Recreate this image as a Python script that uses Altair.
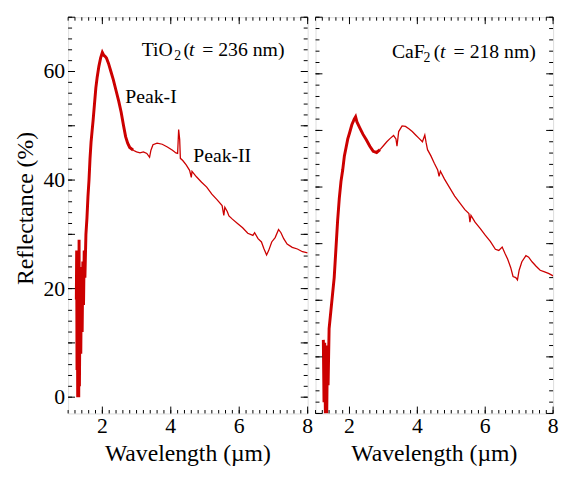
import altair as alt
import pandas as pd

FONT = "'Liberation Serif', 'Times New Roman', Times, 'Nimbus Roman', serif"
RED = "#cc0000"

# TiO2 (left panel) spectrum
tio2_x = [1.24, 1.25, 1.26, 1.27, 1.28, 1.30, 1.31, 1.32, 1.33, 1.35, 1.37, 1.39, 1.41, 1.43,
          1.45, 1.47, 1.49, 1.52, 1.55, 1.58, 1.61, 1.64, 1.67, 1.70, 1.73, 1.77, 1.81, 1.85,
          1.90, 1.95, 2.00, 2.04, 2.08, 2.12, 2.18, 2.25, 2.32, 2.40, 2.48, 2.55, 2.62, 2.68,
          2.74, 2.80, 2.90, 3.00, 3.10, 3.20, 3.30, 3.38, 3.42, 3.48, 3.60, 3.75, 3.90, 4.05,
          4.15, 4.20, 4.23, 4.26, 4.28, 4.35, 4.45, 4.55, 4.60, 4.62, 4.75, 4.90, 5.05, 5.20,
          5.35, 5.50, 5.55, 5.58, 5.65, 5.70, 5.80, 5.95, 6.10, 6.25, 6.40, 6.45, 6.55, 6.65,
          6.72, 6.80, 6.86, 6.95, 7.05, 7.15, 7.22, 7.30, 7.40, 7.55, 7.70, 7.85, 8.00]
tio2_y = [18, 27, 5, 22, 0, 25, 0, 29, 2, 20, 8, 24, 12, 25,
          17, 27, 22, 30, 33, 37, 40, 44, 47, 49, 51, 54, 57, 59,
          61, 62.5, 63.5, 63, 62.8, 62.5, 61.5, 60, 58.5, 56.5, 54.5, 52.5, 50, 48,
          46.8, 46, 45.5, 45.2, 45.0, 45.2, 44.9, 44.2, 45.5, 46.5, 46.8, 46.6, 46.1, 45.5,
          45.0, 44.9, 49.3, 47.5, 44.0, 43.6, 42.8, 41.8, 40.5, 41.6, 40.6, 39.6, 38.7, 37.4,
          36.4, 35.3, 33.5, 35.0, 34.2, 33.4, 32.8, 32.0, 31.2, 30.2, 29.8, 30.3, 29.2, 28.6,
          27.4, 26.2, 27.0, 28.6, 29.4, 30.9, 30.3, 29.2, 28.2, 27.6, 27.3, 26.8, 26.6]

# CaF2 (right panel) spectrum
caf2_x = [1.23, 1.25, 1.27, 1.29, 1.31, 1.33, 1.35, 1.37, 1.40, 1.45, 1.50, 1.55, 1.60, 1.65,
          1.70, 1.75, 1.80, 1.85, 1.90, 1.95, 2.00, 2.07, 2.14, 2.18, 2.22, 2.30, 2.40, 2.50,
          2.60, 2.70, 2.80, 2.90, 3.00, 3.10, 3.20, 3.30, 3.37, 3.40, 3.45, 3.55, 3.65, 3.75,
          3.85, 3.95, 4.05, 4.15, 4.22, 4.26, 4.30, 4.40, 4.50, 4.60, 4.64, 4.68, 4.80, 4.95,
          5.10, 5.25, 5.40, 5.52, 5.55, 5.58, 5.70, 5.85, 6.00, 6.15, 6.30, 6.40, 6.50, 6.58,
          6.66, 6.75, 6.82, 6.90, 6.95, 7.00, 7.08, 7.20, 7.28, 7.38, 7.50, 7.62, 7.75, 7.88, 8.00]
caf2_y = [13, 2, 12.5, 0, 12, 0, 11, 5, 15, 18, 21, 24, 29, 34,
          38, 41, 43, 45.5, 47, 48.5, 49.5, 51, 52, 52.4, 51.5, 50.5, 49.3, 48.3,
          47.2, 46.3, 46.1, 46.6, 47.3, 48.0, 48.6, 49.1, 48.5, 47.2, 49.8, 50.8, 50.7, 50.3,
          49.8, 49.2, 48.6, 48.0, 49.2, 47.8, 46.6, 45.5, 44.2, 43.0, 41.9, 42.8, 41.4, 39.9,
          38.4, 37.2, 36.0, 35.3, 33.8, 35.0, 33.8, 32.7, 31.5, 30.4, 29.0, 28.8, 29.4, 28.3,
          27.3, 25.8, 24.2, 24.0, 23.6, 25.3, 26.8, 27.9, 27.6, 26.8, 26.0, 25.3, 25.0, 24.7, 24.3]

x_labels = [2, 4, 6, 8]
y_labels = [0, 20, 40, 60]
x_major_ticks = [2, 4, 6, 8]
x_minor_ticks = [round(1 + 0.2 * i, 1) for i in range(36)]
y_major_ticks = [0, 10, 20, 30, 40, 50, 60, 70]
y_minor_ticks = list(range(0, 71, 2))
x_title = "Wavelength (µm)"
y_title = "Reflectance (%)"

# annotation texts (data coordinates)
left_texts = [
    {"x": 3.15, "y": 62.9, "t": "TiO", "size": 20, "style": "normal", "align": "left"},
    {"x": 4.10, "y": 62.2, "t": "2", "size": 14, "style": "normal", "align": "left"},
    {"x": 4.37, "y": 62.9, "t": "(", "size": 20, "style": "normal", "align": "left"},
    {"x": 4.53, "y": 62.9, "t": "t", "size": 20, "style": "italic", "align": "left"},
    {"x": 6.12, "y": 62.9, "t": "= 236 nm)", "size": 20, "style": "normal", "align": "center"},
    {"x": 2.67, "y": 54.2, "t": "Peak-I", "size": 20, "style": "normal", "align": "left"},
    {"x": 4.655, "y": 43.4, "t": "Peak-II", "size": 20, "style": "normal", "align": "left"},
]
right_texts = [
    {"x": 3.25, "y": 62.8, "t": "CaF", "size": 20, "style": "normal", "align": "left"},
    {"x": 4.18, "y": 62.1, "t": "2", "size": 14, "style": "normal", "align": "left"},
    {"x": 4.48, "y": 62.8, "t": "(", "size": 20, "style": "normal", "align": "left"},
    {"x": 4.67, "y": 62.8, "t": "t", "size": 20, "style": "italic", "align": "left"},
    {"x": 6.28, "y": 62.8, "t": "= 218 nm)", "size": 20, "style": "normal", "align": "center"},
]

W1, W2, H = 243, 241, 402


def panel(xs, ys, ydomain, show_y, texts, W):
    df = pd.DataFrame({"x": xs, "y": ys})
    xscale = alt.Scale(domain=[1, 8], nice=False, zero=False)
    yscale = alt.Scale(domain=ydomain, nice=False, zero=False)
    X = alt.X("x:Q", scale=xscale, axis=None)
    Y = alt.Y("y:Q", scale=yscale, axis=None)

    base = alt.Chart(df)
    thick = base.transform_filter(alt.datum.x <= 2.9).mark_line(
        color=RED, strokeWidth=3, clip=True).encode(x=X, y=Y)
    thin = base.transform_filter(alt.datum.x >= 2.9).mark_line(
        color=RED, strokeWidth=1.3, clip=True).encode(x=X, y=Y)

    layers = [thick, thin]

    def yt(vals, length):
        d = pd.DataFrame({"y": vals})
        c = alt.Chart(d)
        left = c.mark_rule(color="black", strokeWidth=1).encode(
            y=Y, x=alt.value(0), x2=alt.value(length))
        right = c.mark_rule(color="black", strokeWidth=1).encode(
            y=Y, x=alt.value(W - length), x2=alt.value(W))
        return [left, right]

    def xt(vals, length):
        d = pd.DataFrame({"x": vals})
        c = alt.Chart(d)
        bottom = c.mark_rule(color="black", strokeWidth=1).encode(
            x=X, y=alt.value(H - length), y2=alt.value(H))
        top = c.mark_rule(color="black", strokeWidth=1).encode(
            x=X, y=alt.value(0), y2=alt.value(length))
        return [bottom, top]

    layers += yt(y_major_ticks, 7) + yt(y_minor_ticks, 4)
    layers += xt(x_major_ticks, 7) + xt(x_minor_ticks, 3.5)

    # tick labels and titles as text marks
    xl = pd.DataFrame({"x": x_labels, "lab": [str(v) for v in x_labels]})
    layers.append(alt.Chart(xl).mark_text(font=FONT, fontSize=22, align="center",
                                          baseline="alphabetic", color="black")
                  .encode(x=X, y=alt.value(H + 20), text="lab:N"))
    layers.append(alt.Chart(pd.DataFrame({"t": [x_title]})).mark_text(
        font=FONT, fontSize=24, align="center", baseline="alphabetic", color="black")
        .encode(x=alt.value(W / 2), y=alt.value(H + 48), text="t:N"))
    if show_y:
        yl = pd.DataFrame({"y": y_labels, "lab": [str(v) for v in y_labels]})
        layers.append(alt.Chart(yl).mark_text(font=FONT, fontSize=22, align="right",
                                              baseline="middle", color="black")
                      .encode(y=Y, x=alt.value(-3), text="lab:N"))
        layers.append(alt.Chart(pd.DataFrame({"t": [y_title]})).mark_text(
            font=FONT, fontSize=24, align="center", baseline="alphabetic", angle=270,
            color="black")
            .encode(x=alt.value(-36), y=alt.value(194), text="t:N"))

    tdf = pd.DataFrame(texts)
    for (size, style, align), grp in tdf.groupby(["size", "style", "align"]):
        layers.append(
            alt.Chart(grp).mark_text(font=FONT, fontSize=int(size), fontStyle=style,
                                     align=align, baseline="alphabetic", color="black")
            .encode(x=X, y=Y, text="t:N")
        )
    return alt.layer(*layers).properties(width=W, height=H)


left = panel(tio2_x, tio2_y, [-3, 70], True, left_texts, W1)
right = panel(caf2_x, caf2_y, [0, 70], False, right_texts, W2)

chart = alt.hconcat(left, right, spacing=8, bounds="flush").configure_view(
    stroke="black", strokeWidth=1.6
).configure(
    background="white",
    padding={"left": 5, "right": 0, "top": 5, "bottom": 0},
    font=FONT,
)

chart.save("out.html", embed_options={"renderer": "svg", "actions": False})
